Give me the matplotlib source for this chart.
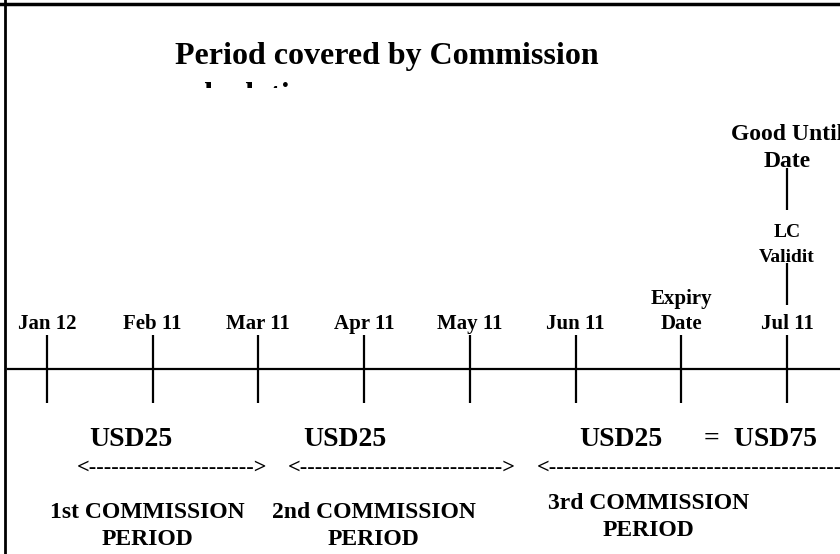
import matplotlib.pyplot as plt

plt.rcParams['font.family'] = ['Liberation Serif', 'DejaVu Serif']
plt.rcParams['font.weight'] = 'bold'

# timeline dates (left to right)
dates = ["Jan 12", "Feb 11", "Mar 11", "Apr 11", "May 11", "Jun 11", "Expiry\nDate", "Jul 11"]
# extra marks stacked above the last date
validity = ["LC\nValidit", "Good Until\nDate"]
# commission periods and fee per period (USD)
periods = ["1st COMMISSION\nPERIOD", "2nd COMMISSION\nPERIOD", "3rd COMMISSION\nPERIOD"]
fees = [25, 25, 25]

title = "Period covered by Commission\ncalculation"

fig = plt.figure(figsize=(8.4, 5.54), dpi=100)
ax = fig.add_axes([0, 0, 1, 1])
step = 105.7  # pixels between two dates
x0 = -47 / step
x1 = len(dates) - 1 + 53 / step
ax.set_xlim(x0, x1)
ax.set_ylim(554, 0)
ax.axis('off')

x = list(range(len(dates)))

# frame on left and top
ax.axvline(x0 + 5 / step, color='k', lw=2)
ax.axhline(3.5, color='k', lw=2.5)

# timeline and ticks
ax.plot([x0 + 8 / step, x1], [369, 369], color='k', lw=1.6)
ax.vlines(x, 335, 403, color='k', lw=1.6)
for xi, lab in zip(x, dates):
    ax.text(xi, 334, lab, ha='center', va='bottom', fontsize=15, linespacing=1.35)

# connectors above the last date
ax.vlines([x[-1], x[-1]], [263, 168], [305, 210], color='k', lw=1.6)
ax.text(x[-1], 266, validity[0], ha='center', va='bottom', fontsize=14, linespacing=1.6)
ax.text(x[-1], 172, validity[1], ha='center', va='bottom', fontsize=17, linespacing=1.4)

# fees
fee_x = [0.79, 2.82, 5.43]
for xi, f in zip(fee_x, fees):
    ax.text(xi, 446, f"USD{f}", ha='center', va='baseline', fontsize=20)
ax.text(6.75, 446, f"=  USD{sum(fees)}", ha='center', va='baseline', fontsize=20)

# arrows drawn as text
ax.text(1.18, 468, "<" + "-" * 22 + ">", ha='center', va='center', fontsize=16)
ax.text(3.36, 468, "<" + "-" * 27 + ">", ha='center', va='center', fontsize=16)
ax.text(4.635, 468, "<" + "-" * 40, ha='left', va='center', fontsize=16)

# period labels
period_x = [0.95, 3.09, 5.69]
period_y = [550, 550, 541]
period_ls = [1.38, 1.38, 1.36]
for xi, yi, ls, lab in zip(period_x, period_y, period_ls, periods):
    ax.text(xi, yi, lab, ha='center', va='bottom', fontsize=17, linespacing=ls,
            multialignment='center')

# title, second line cut off by its box
ax_t = fig.add_axes([0, 1 - 88 / 554, 1, 88 / 554])
ax_t.set_xlim(0, 840)
ax_t.set_ylim(88, 0)
ax_t.axis('off')
t = ax_t.text(175, 42, title, ha='left', va='top', fontsize=23, linespacing=1.5)
t.set_clip_box(ax_t.bbox)
t.set_clip_on(True)

fig.savefig("out.png", dpi=100)
